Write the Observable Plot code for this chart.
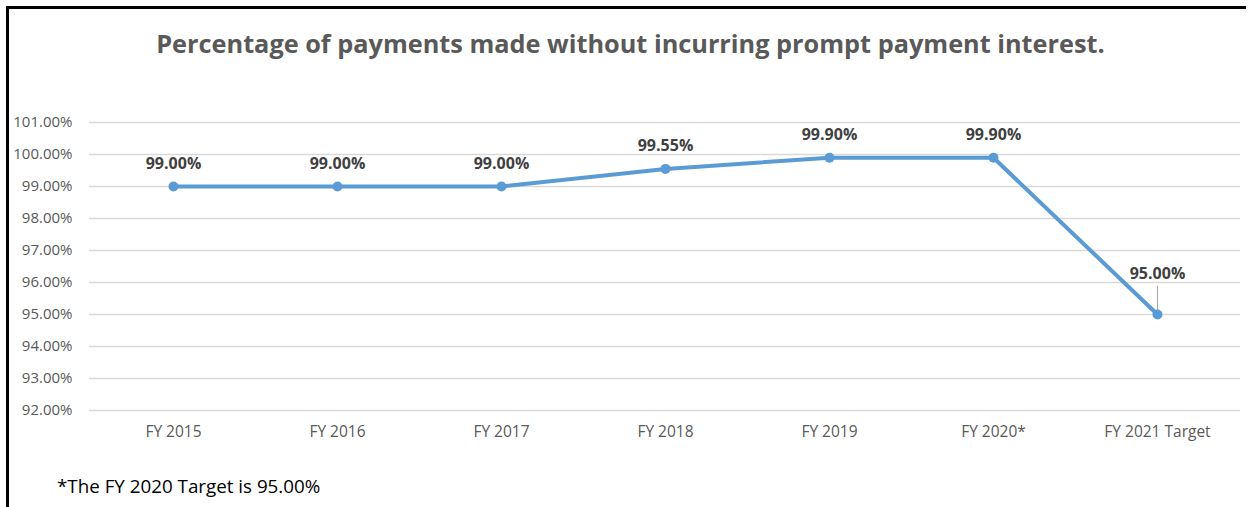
<!DOCTYPE html>
<html>
<head>
<meta charset="utf-8">
<script src="https://cdn.jsdelivr.net/npm/d3@7"></script>
<script src="https://cdn.jsdelivr.net/npm/@observablehq/plot@0.6"></script>
<style>
  html, body { margin: 0; padding: 0; background: #fff; }
  #wrap { position: relative; width: 1249px; height: 507px; overflow: hidden; font-family: "Open Sans", Lato, sans-serif; }
  #frame { position: absolute; left: 6px; top: 6px; width: 1240px; height: 520px; border-left: 3px solid #000; border-top: 3px solid #000; box-sizing: border-box; }
  #title { position: absolute; left: 0; width: 1261px; top: 26px; text-align: center; font-size: 25.3px; font-weight: bold; color: #595959; white-space: nowrap; }
  #note { position: absolute; left: 57px; top: 473px; font-size: 18.8px; color: #000; white-space: nowrap; }
  #chart { position: absolute; left: 0; top: 0; }
</style>
</head>
<body>
<div id="wrap">
  <div id="chart"></div>
  <div id="frame"></div>
  <div id="title">Percentage of payments made without incurring prompt payment interest.</div>
  <div id="note">*The FY 2020 Target is 95.00%</div>
</div>
<script>
const categories = ["FY 2015", "FY 2016", "FY 2017", "FY 2018", "FY 2019", "FY 2020*", "FY 2021 Target"];
const values = [99.00, 99.00, 99.00, 99.55, 99.90, 99.90, 95.00];
const yTicks = [92, 93, 94, 95, 96, 97, 98, 99, 100, 101];
const leaderTop = 95.88; // top of leader line for the last label

const data = categories.map((c, i) => ({cat: c, v: values[i]}));
const last = data[data.length - 1];
const fmt = v => v.toFixed(2) + "%";

const chart = Plot.plot({
  width: 1249,
  height: 507,
  marginLeft: 89,
  marginRight: 9,
  marginTop: 122,
  marginBottom: 97,
  style: {fontFamily: "'Open Sans', Lato, sans-serif", fontSize: "14px", color: "#595959", background: "transparent"},
  x: {type: "band", domain: categories, padding: 0, label: null},
  y: {domain: [92, 101], label: null},
  marks: [
    Plot.gridY(yTicks, {stroke: "#d9d9d9", strokeOpacity: 1, strokeWidth: 1.5}),
    Plot.axisY(yTicks, {tickSize: 0, tickPadding: 17, tickFormat: fmt, fill: "#595959", fontSize: 15}),
    Plot.axisX({tickSize: 0, tickPadding: 15, fill: "#595959", fontSize: 15.5}),
    Plot.ruleX([last], {x: "cat", y1: "v", y2: () => leaderTop, stroke: "#a6a6a6", strokeWidth: 1}),
    Plot.line(data, {x: "cat", y: "v", stroke: "#5b9bd5", strokeWidth: 4, strokeLinejoin: "round", strokeLinecap: "round"}),
    Plot.dot(data, {x: "cat", y: "v", r: 5, fill: "#5b9bd5", stroke: "none"}),
    Plot.text(data.slice(0, -1), {x: "cat", y: "v", text: d => fmt(d.v), dy: -23, fill: "#404040", fontWeight: "bold", fontSize: 16}),
    Plot.text([last], {x: "cat", y: "v", text: d => fmt(d.v), dy: -41, fill: "#404040", fontWeight: "bold", fontSize: 16})
  ]
});
document.getElementById("chart").appendChild(chart);
</script>
</body>
</html>
